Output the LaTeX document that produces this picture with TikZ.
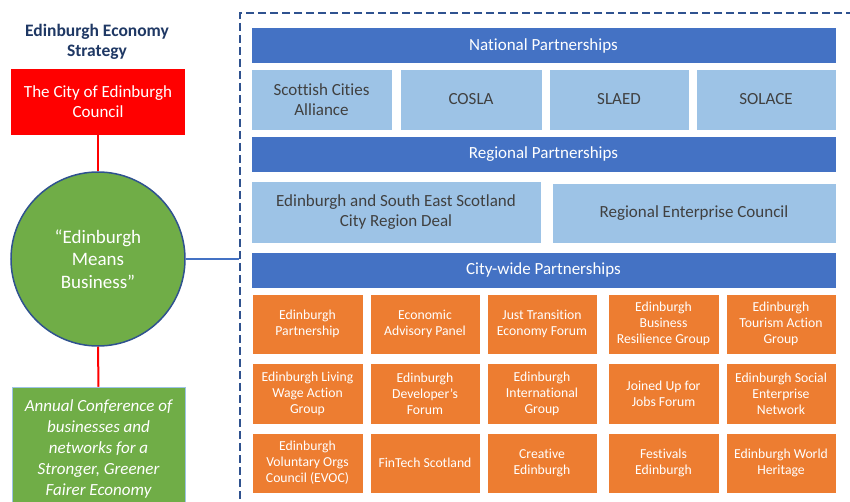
\documentclass[tikz,border=0pt]{standalone}
\usepackage{fontspec}
\setmainfont{Carlito}[Ligatures={TeX,NoCommon}]
\usepackage{tikz}
\usetikzlibrary{positioning,calc}
\definecolor{barblue}{HTML}{4472C4}
\definecolor{paleblue}{HTML}{9DC3E6}
\definecolor{boxorange}{HTML}{ED7D31}
\definecolor{meansgreen}{HTML}{70AD47}
\definecolor{rimblue}{HTML}{2F528F}
\definecolor{navytext}{HTML}{1F3864}
\definecolor{greytext}{HTML}{404040}
\tikzset{
    every picture/.style={line width=0.5pt},
    bar/.style={rectangle,fill=barblue,draw=white,text=white,inner sep=0pt,
        minimum width=585pt,minimum height=36pt,font=\fontsize{17}{20}\selectfont},
    palebox/.style={rectangle,fill=paleblue,draw=white,text=greytext,inner sep=0pt,
        align=center,minimum height=61pt,font=\fontsize{17}{20}\selectfont},
    orgbox/.style={rectangle,fill=boxorange,draw=white,text=white,inner sep=0pt,
        align=center,minimum width=110pt,minimum height=60pt,font=\fontsize{13.7}{16}\selectfont},
    redlink/.style={draw=red,line width=2pt},
    bluelink/.style={draw=barblue,line width=2pt}
}

\begin{document}
\begin{tikzpicture}[x=1pt,y=-1pt]
    \useasboundingbox (0,0) rectangle (850,502);

    % left column
    \node[text=navytext,font=\bfseries\fontsize{17.5}{20}\selectfont,align=center]
        (title) at (97,42) {Edinburgh Economy\\Strategy};
    \node[rectangle,fill=red,text=white,inner sep=0pt,align=center,
        minimum width=174pt,minimum height=66pt,font=\fontsize{17}{20}\selectfont]
        (council) at (98,102) {The City of Edinburgh\\Council};
    \node[circle,fill=meansgreen,draw=rimblue,line width=1.5pt,text=white,inner sep=0pt,
        align=center,minimum size=174pt,font=\fontsize{19}{22.5}\selectfont]
        (means) at (98,259) {“Edinburgh\\Means\\Business”};
    \node[rectangle,fill=meansgreen,draw=paleblue,text=white,inner sep=0pt,align=center,
        minimum width=173pt,minimum height=124pt,font=\itshape\fontsize{17}{21}\selectfont]
        (annual) at (98.5,449) {Annual Conference of\\businesses and\\networks for a\\Stronger, Greener\\Fairer Economy};

    % dashed frame round the partnerships
    \node[rectangle,draw=rimblue,line width=2pt,dash pattern=on 8pt off 4pt,inner sep=0pt,
        minimum width=624pt,minimum height=506pt] (frame) at (552,266) {};

    \draw[redlink] (council.south) -- (means.north);
    \draw[redlink] (means.south) -- (annual.north);
    \draw[bluelink] (means.east) -- (means.east -| frame.west);

    % national
    \node[bar] (national) at (543.5,45.5) {National Partnerships};
    \node[palebox,minimum width=141pt] (sca) at (321.5,99.5) {Scottish Cities\\Alliance};
    \node[palebox,minimum width=142pt] (cosla) at (471,99.5) {COSLA};
    \node[palebox,minimum width=140pt] (slaed) at (619,99.5) {SLAED};
    \node[palebox,minimum width=140pt] (solace) at (766,99.5) {SOLACE};

    % regional
    \node[bar] (regional) at (543.5,154.5) {Regional Partnerships};
    \node[palebox,minimum width=290pt,minimum height=62pt] (cityregion) at (396,212)
        {Edinburgh and South East Scotland\\City Region Deal};
    \node[palebox,minimum width=284pt,minimum height=60pt] (rec) at (694,213)
        {Regional Enterprise Council};

    % city-wide
    \node[bar] (citywide) at (543.5,270) {City-wide Partnerships};

    \node[orgbox,minimum width=111pt] (edpart) at (307.5,324) {Edinburgh\\Partnership};
    \node[orgbox] (eap) at (425,324) {Economic\\Advisory Panel};
    \node[orgbox] (jtef) at (542,324) {Just Transition\\Economy Forum};
    \node[orgbox,minimum width=111pt] (ebrg) at (663.5,324) {Edinburgh\\Business\\Resilience Group};
    \node[orgbox] (etag) at (781,324) {Edinburgh\\Tourism Action\\Group};

    \node[orgbox,minimum width=111pt,minimum height=61pt] (living) at (307.5,393.5) {Edinburgh Living\\Wage Action\\Group};
    \node[orgbox,minimum height=61pt] (devforum) at (425,393.5) {Edinburgh\\Developer’s\\Forum};
    \node[orgbox,minimum height=61pt] (intgroup) at (542,393.5) {Edinburgh\\International\\Group};
    \node[orgbox,minimum width=111pt,minimum height=61pt] (jobs) at (663.5,393.5) {Joined Up for\\Jobs Forum};
    \node[orgbox,minimum height=61pt] (social) at (781,393.5) {Edinburgh Social\\Enterprise\\Network};

    \node[orgbox,minimum width=111pt] (evoc) at (307.5,463) {Edinburgh\\Voluntary Orgs\\Council (EVOC)};
    \node[orgbox] (fintech) at (425,463) {FinTech Scotland};
    \node[orgbox] (creative) at (542,463) {Creative\\Edinburgh};
    \node[orgbox,minimum width=111pt] (festivals) at (663.5,463) {Festivals\\Edinburgh};
    \node[orgbox] (heritage) at (781,463) {Edinburgh World\\Heritage};
\end{tikzpicture}
\end{document}
